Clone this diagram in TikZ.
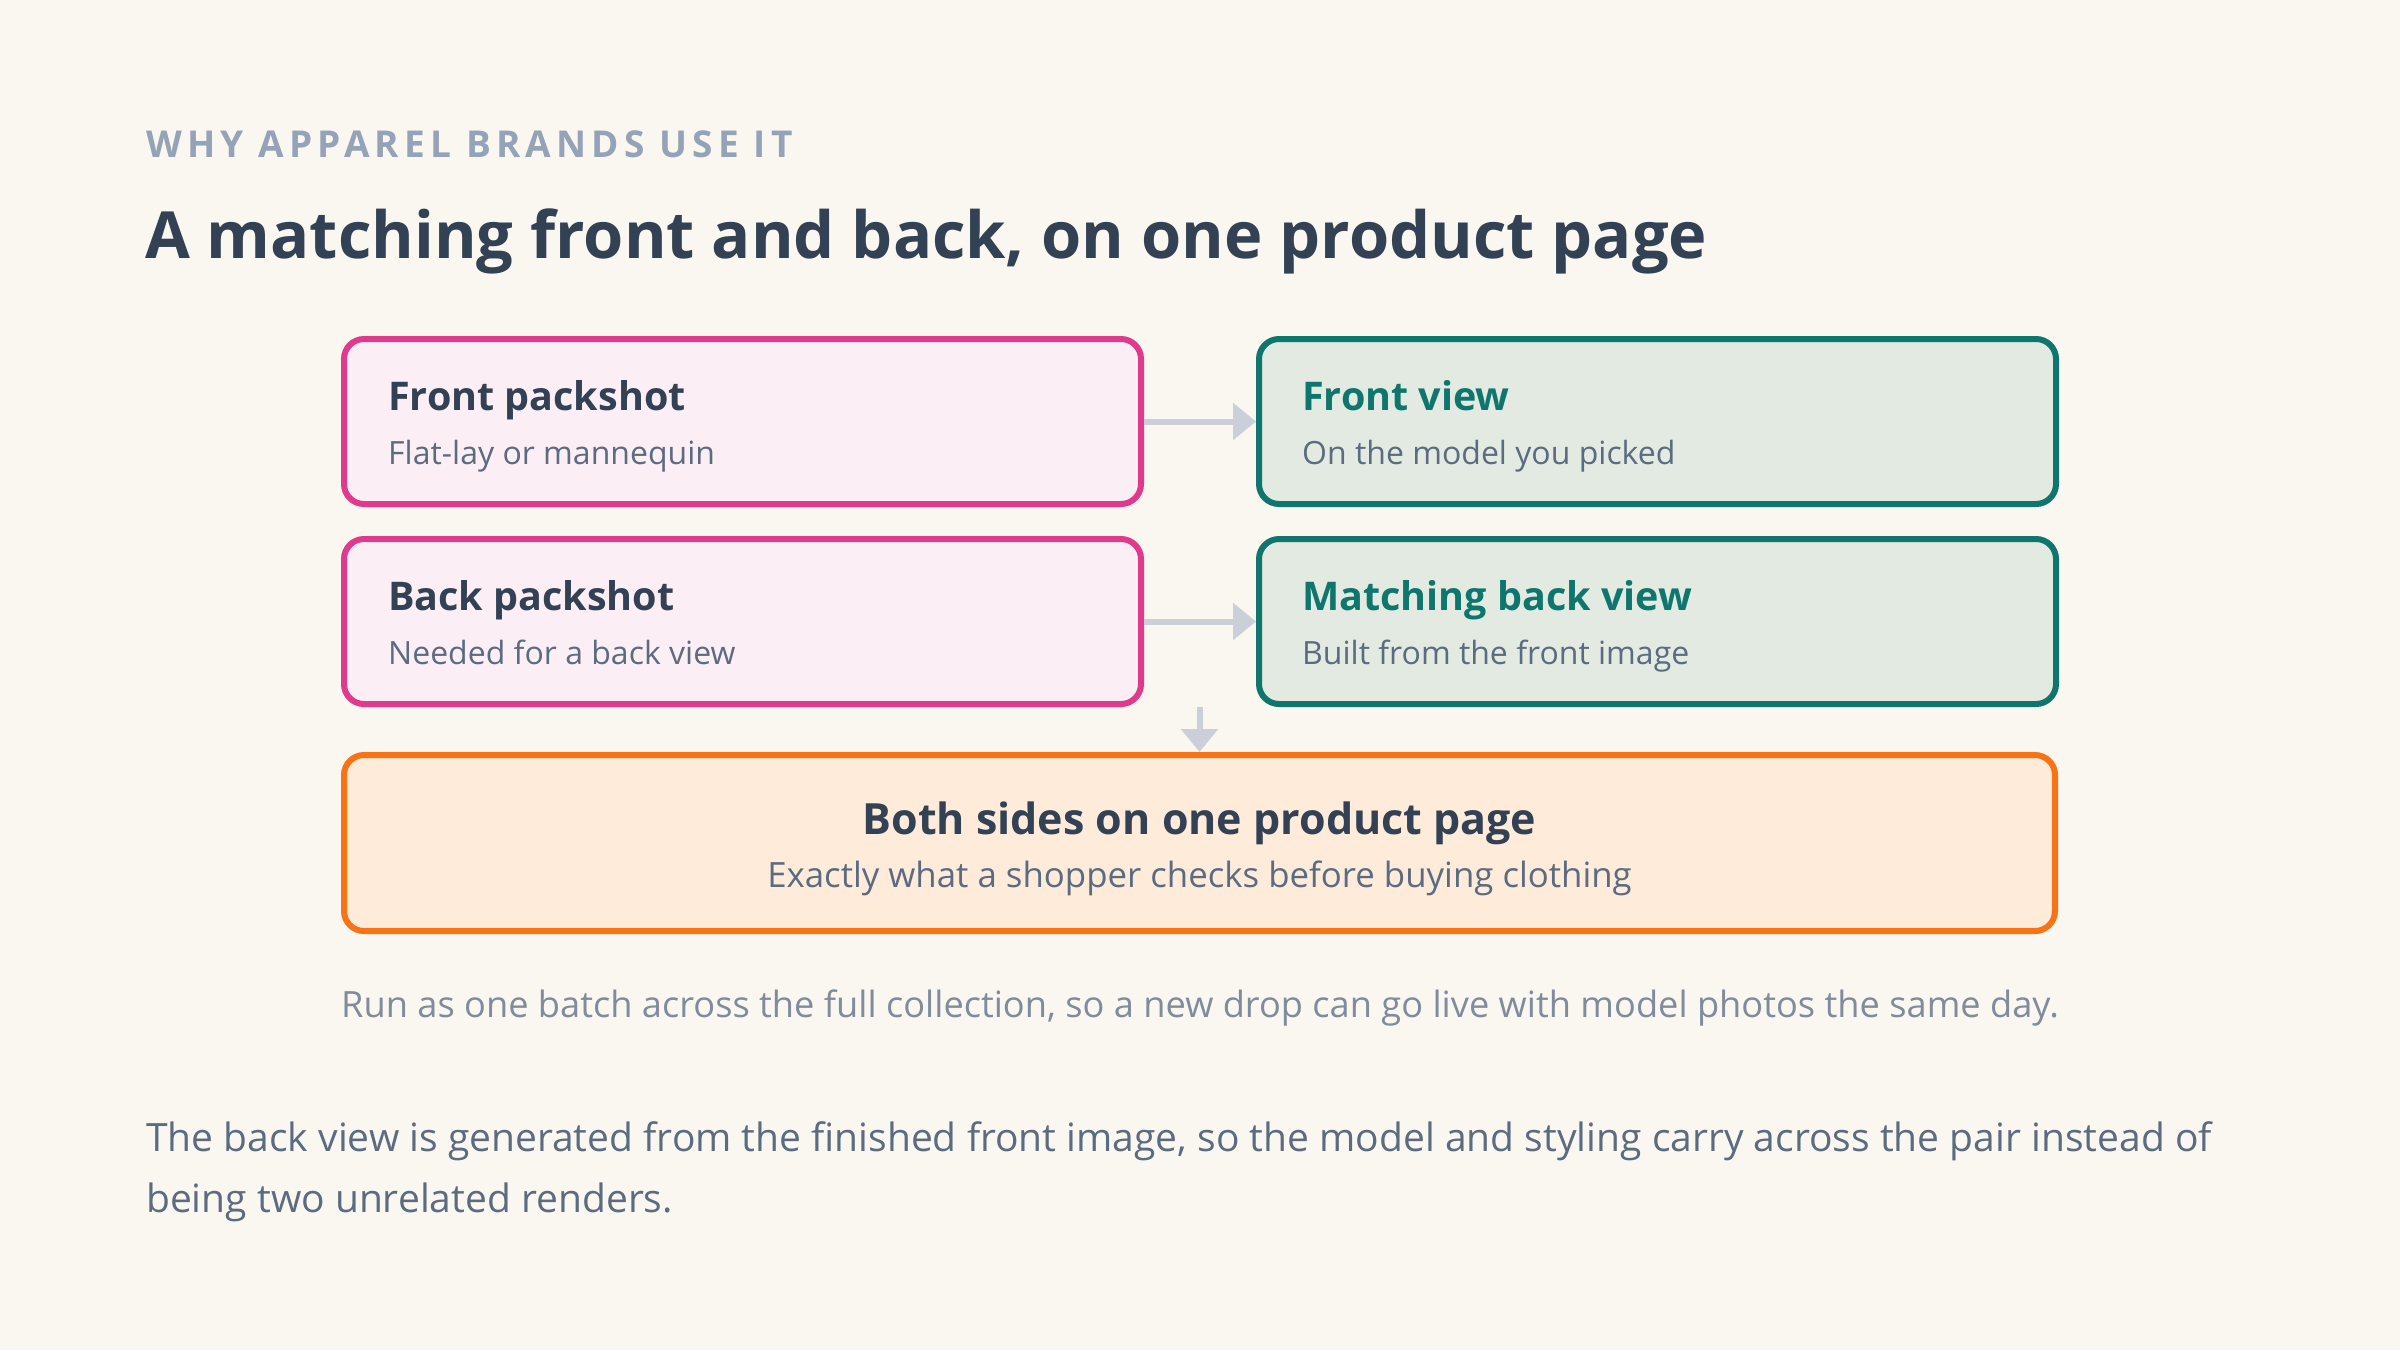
\documentclass[tikz,border=0pt]{standalone}
\usepackage{fontspec}
\IfFontExistsTF{NotoSans-Bold.ttf}{%
  \setmainfont{NotoSans-Regular.ttf}[BoldFont=NotoSans-Bold.ttf]
  \newfontfamily\kickerfont{NotoSans-Bold.ttf}[LetterSpace=14]
}{%
  \setmainfont{Open Sans}
  \newfontfamily\kickerfont{Open Sans}[LetterSpace=14]
}
\usetikzlibrary{positioning,arrows.meta}

\definecolor{pagebg}{HTML}{FAF7F0}
\definecolor{inkdark}{HTML}{334155}
\definecolor{inkmid}{HTML}{5B6B80}
\definecolor{inklight}{HTML}{808B9C}
\definecolor{kickergray}{HTML}{94A3B8}
\definecolor{pinkline}{HTML}{E03A8D}
\definecolor{pinkfill}{HTML}{FCEEF5}
\definecolor{tealline}{HTML}{0F766E}
\definecolor{tealfill}{HTML}{E2EAE1}
\definecolor{orangeline}{HTML}{F97316}
\definecolor{orangefill}{HTML}{FEEBD9}
\definecolor{arrowgray}{HTML}{CBCFD8}

\tikzset{
  card/.style={line width=6pt, rounded corners=20pt, anchor=north west, inner sep=0pt,
    minimum width=797pt, minimum height=165pt},
  srccard/.style={card, draw=pinkline, fill=pinkfill},
  outcard/.style={card, draw=tealline, fill=tealfill},
  pagecard/.style={card, draw=orangeline, fill=orangefill, minimum width=1711pt, minimum height=176pt},
  cardhead/.style={anchor=base west, inner sep=0pt, font=\fontsize{39.5}{46}\selectfont\bfseries, text=inkdark},
  cardsub/.style={anchor=base west, inner sep=0pt, font=\fontsize{32}{38}\selectfont, text=inkmid},
  flow/.style={draw=arrowgray, line width=6pt, -{Triangle[width=36pt,length=23pt]}},
  plaintxt/.style={anchor=base west, inner sep=0pt},
}

\begin{document}
\begin{tikzpicture}[x=1pt,y=-1pt]
  \fill[pagebg] (0,0) rectangle (2400,1350);
  \useasboundingbox (0,0) rectangle (2400,1350);

  % heading
  \node[plaintxt, font=\kickerfont\fontsize{37}{44}\selectfont\bfseries, text=kickergray] (kicker) at (146,157) {WHY APPAREL BRANDS USE IT};
  \node[plaintxt, font=\fontsize{65}{80}\selectfont\bfseries, text=inkdark] (title) at (145,258) {A matching front and back, on one product page};

  % cards
  \node[srccard] (fpack) at (341,336) {};
  \node[outcard] (fview) at (1256,336) {};
  \node[srccard] (bpack) at (341,536) {};
  \node[outcard] (bview) at (1256,536) {};
  \node[pagecard] (both) at (341,752) {};

  \node[cardhead] (fpackhead) at ([xshift=47pt,yshift=-74pt]fpack.north west) {Front packshot};
  \node[cardsub] (fpacksub) at ([xshift=47pt,yshift=-128pt]fpack.north west) {Flat-lay or mannequin};
  \node[cardhead, text=tealline] (fviewhead) at ([xshift=46pt,yshift=-74pt]fview.north west) {Front view};
  \node[cardsub] (fviewsub) at ([xshift=46pt,yshift=-128pt]fview.north west) {On the model you picked};
  \node[cardhead] (bpackhead) at ([xshift=47pt,yshift=-74pt]bpack.north west) {Back packshot};
  \node[cardsub] (bpacksub) at ([xshift=47pt,yshift=-128pt]bpack.north west) {Needed for a back view};
  \node[cardhead, text=tealline] (bviewhead) at ([xshift=46pt,yshift=-74pt]bview.north west) {Matching back view};
  \node[cardsub] (bviewsub) at ([xshift=46pt,yshift=-128pt]bview.north west) {Built from the front image};

  \node[cardhead, anchor=base, font=\fontsize{43}{50}\selectfont\bfseries] (bothhead) at ([yshift=-82pt]both.north) {Both sides on one product page};
  \node[cardsub, anchor=base, font=\fontsize{34.8}{40}\selectfont] (bothsub) at ([yshift=-135pt]both.north) {Exactly what a shopper checks before buying clothing};

  % arrows
  \draw[flow] (fpack.east) -- (fview.west);
  \draw[flow] (bpack.east) -- (bview.west);
  \draw[flow] (both.north |- bpack.south) -- (both.north);

  % notes
  \node[plaintxt, anchor=base, font=\fontsize{36.2}{42}\selectfont, text=inklight] (note) at (1200,1017) {Run as one batch across the full collection, so a new drop can go live with model photos the same day.};
  \node[plaintxt, font=\fontsize{39}{46}\selectfont, text=inkmid] (para1) at (146,1151) {The back view is generated from the finished front image, so the model and styling carry across the pair instead of};
  \node[plaintxt, font=\fontsize{39}{46}\selectfont, text=inkmid] (para2) at ([yshift=-61pt]para1.base west) {being two unrelated renders.};
\end{tikzpicture}
\end{document}
